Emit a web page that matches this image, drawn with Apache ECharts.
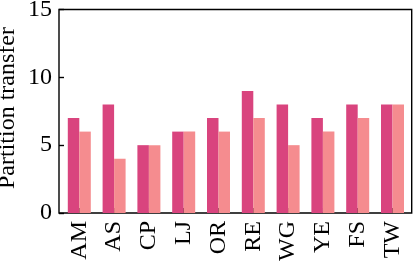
<!DOCTYPE html>
<html>
<head>
<meta charset="utf-8">
<script src="https://cdn.jsdelivr.net/npm/echarts@6/dist/echarts.min.js"></script>
<style>html,body{margin:0;padding:0;background:#fff}#c{width:415px;height:266px}</style>
</head>
<body>
<div id="c"></div>
<script>
const categories = ['AM','AS','CP','LJ','OR','RE','WG','YE','FS','TW'];
const seriesA = [7,8,5,6,7,9,8,7,8,8];
const seriesB = [6,4,5,6,6,7,5,6,7,8];
const yTicks = [0,5,10,15];
const yLabel = 'Partition transfer';

const FONT = '"Liberation Serif", "Times New Roman", serif';
const chart = echarts.init(document.getElementById('c'), null, {renderer:'canvas'});
chart.setOption({
  animation:false,
  backgroundColor:'#fff',
  grid:[
    {left:61.9, right:5.1, top:9.5, bottom:53, show:false, containLabel:false, outerBoundsMode:'none'},
    {left:59, right:3.3, top:9.5, bottom:53, show:true, borderColor:'#000', borderWidth:1.4, backgroundColor:'transparent', containLabel:false, outerBoundsMode:'none'}
  ],
  graphic:[
    {type:'text', x:8, y:108, rotation:Math.PI/2,
     style:{text:yLabel, fill:'#000', font:'24px ' + FONT, align:'center', verticalAlign:'middle'}}
  ],
  xAxis:[
    {type:'category', gridIndex:0, data:categories, boundaryGap:true,
     axisLine:{show:false},
     axisTick:{show:true, inside:true, alignWithLabel:true, length:5, lineStyle:{color:'#000', width:1.4}},
     axisLabel:{rotate:90, margin:8, color:'#000', fontFamily:FONT, fontSize:24}},
    {type:'value', gridIndex:1, min:0, max:1, show:false}
  ],
  yAxis:[
    {type:'value', gridIndex:0, min:0, max:15, show:false},
    {type:'value', gridIndex:1, min:yTicks[0], max:yTicks[yTicks.length-1], interval:5,
     axisLine:{show:false}, splitLine:{show:false},
     axisTick:{show:true, inside:true, length:5, lineStyle:{color:'#000', width:1.4}},
     axisLabel:{margin:7, color:'#000', fontFamily:FONT, fontSize:24}}
  ],
  series:[
    {type:'bar', xAxisIndex:0, yAxisIndex:0, data:seriesA, barWidth:11.5, barGap:'0%',
     itemStyle:{color:'#d9447e'}},
    {type:'bar', xAxisIndex:0, yAxisIndex:0, data:seriesB, barWidth:11.5, barGap:'0%',
     itemStyle:{color:'#f58c8f'}}
  ]
});
</script>
</body>
</html>
